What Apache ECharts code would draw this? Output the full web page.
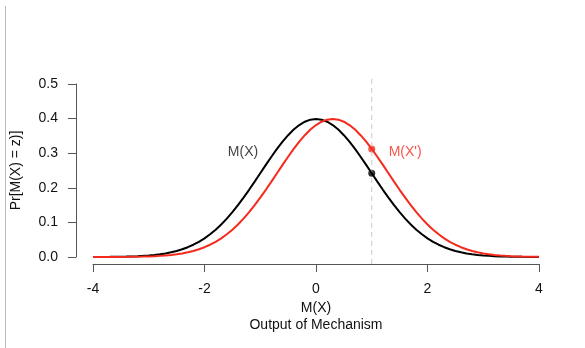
<!DOCTYPE html>
<html>
<head>
<meta charset="utf-8">
<script src="https://cdn.jsdelivr.net/npm/echarts@6/dist/echarts.min.js"></script>
<style>html,body{margin:0;padding:0;background:#fff}#c{width:585px;height:348px}</style>
</head>
<body>
<div id="c"></div>
<script>
var xs = [-4.0,-3.9,-3.8,-3.7,-3.6,-3.5,-3.4,-3.3,-3.2,-3.1,-3.0,-2.9,-2.8,-2.7,-2.6,-2.5,-2.4,-2.3,-2.2,-2.1,-2.0,-1.9,-1.8,-1.7,-1.6,-1.5,-1.4,-1.3,-1.2,-1.1,-1.0,-0.9,-0.8,-0.7,-0.6,-0.5,-0.4,-0.3,-0.2,-0.1,0.0,0.1,0.2,0.3,0.4,0.5,0.6,0.7,0.8,0.9,1.0,1.1,1.2,1.3,1.4,1.5,1.6,1.7,1.8,1.9,2.0,2.1,2.2,2.3,2.4,2.5,2.6,2.7,2.8,2.9,3.0,3.1,3.2,3.3,3.4,3.5,3.6,3.7,3.8,3.9,4.0];
var densityMX = [0.0001,0.0002,0.0003,0.0004,0.0006,0.0009,0.0012,0.0017,0.0024,0.0033,0.0044,0.0060,0.0079,0.0104,0.0136,0.0175,0.0224,0.0283,0.0355,0.0440,0.0540,0.0656,0.0790,0.0940,0.1109,0.1295,0.1497,0.1714,0.1942,0.2179,0.2420,0.2661,0.2897,0.3123,0.3332,0.3521,0.3683,0.3814,0.3910,0.3970,0.3989,0.3970,0.3910,0.3814,0.3683,0.3521,0.3332,0.3123,0.2897,0.2661,0.2420,0.2179,0.1942,0.1714,0.1497,0.1295,0.1109,0.0940,0.0790,0.0656,0.0540,0.0440,0.0355,0.0283,0.0224,0.0175,0.0136,0.0104,0.0079,0.0060,0.0044,0.0033,0.0024,0.0017,0.0012,0.0009,0.0006,0.0004,0.0003,0.0002,0.0001];
var densityMXp = [0.0000,0.0001,0.0001,0.0001,0.0002,0.0003,0.0004,0.0006,0.0009,0.0012,0.0017,0.0024,0.0033,0.0044,0.0060,0.0079,0.0104,0.0136,0.0175,0.0224,0.0283,0.0355,0.0440,0.0540,0.0656,0.0790,0.0940,0.1109,0.1295,0.1497,0.1714,0.1942,0.2179,0.2420,0.2661,0.2897,0.3123,0.3332,0.3521,0.3683,0.3814,0.3910,0.3970,0.3989,0.3970,0.3910,0.3814,0.3683,0.3521,0.3332,0.3123,0.2897,0.2661,0.2420,0.2179,0.1942,0.1714,0.1497,0.1295,0.1109,0.0940,0.0790,0.0656,0.0540,0.0440,0.0355,0.0283,0.0224,0.0175,0.0136,0.0104,0.0079,0.0060,0.0044,0.0033,0.0024,0.0017,0.0012,0.0009,0.0006,0.0004];
var xTicks = [-4, -2, 0, 2, 4];
var yTicks = [0.0, 0.1, 0.2, 0.3, 0.4, 0.5];
var evalX = 1;
var evalMX = 0.2420;
var evalMXp = 0.3123;
var vlineY = [-0.02, 0.526];
var labelMX = {text: 'M(X)', x: -1.31, y: 0.303};
var labelMXp = {text: "M(X')", x: 1.60, y: 0.303};
var xName1 = 'M(X)';
var xName2 = 'Output of Mechanism';
var yName = 'Pr[M(X) = z)]';

var FONT = '"Liberation Sans", Arial, sans-serif';
var FS = 14;
var RED = '#f52a1c';
var AXC = '#555';
var chart = echarts.init(document.getElementById('c'), null, {renderer: 'canvas'});
function zip(a, b) { return a.map(function (v, i) { return [v, b[i]]; }); }
chart.setOption({
  animation: false,
  backgroundColor: '#fff',
  grid: {left: 93, right: 46, top: 84, bottom: 91, containLabel: false},
  xAxis: {
    type: 'value', min: xTicks[0], max: xTicks[xTicks.length - 1], interval: 2,
    offset: 7,
    axisLine: {show: true, onZero: false, lineStyle: {color: AXC, width: 1}},
    axisTick: {show: true, length: 8, lineStyle: {color: AXC}},
    axisLabel: {show: true, color: '#111', fontSize: FS, fontFamily: FONT, margin: 18,
      formatter: function (v) { return String(v); }},
    splitLine: {show: false}
  },
  yAxis: {
    type: 'value', min: yTicks[0], max: yTicks[yTicks.length - 1], interval: 0.1,
    offset: 17,
    axisLine: {show: true, onZero: false, lineStyle: {color: AXC, width: 1}},
    axisTick: {show: true, length: 8, lineStyle: {color: AXC}},
    axisLabel: {show: true, color: '#111', fontSize: FS, fontFamily: FONT, margin: 18,
      formatter: function (v) { return v.toFixed(1); }},
    splitLine: {show: false}
  },
  series: [
    {type: 'line', data: [[evalX, vlineY[0]], [evalX, vlineY[1]]], clip: false, symbol: 'none', silent: true,
      lineStyle: {color: '#c8c8c8', width: 1, type: [5, 4]}},
    {type: 'line', data: zip(xs, densityMX), symbol: 'none', smooth: false,
      lineStyle: {color: '#000', width: 2}},
    {type: 'line', data: zip(xs, densityMXp), symbol: 'none', smooth: false,
      lineStyle: {color: RED, width: 2}},
    {type: 'scatter', data: [[evalX, evalMX]], symbol: 'circle', symbolSize: 7, itemStyle: {color: '#000'}},
    {type: 'scatter', data: [[evalX, evalMXp]], symbol: 'circle', symbolSize: 7, itemStyle: {color: RED}},
    {type: 'scatter', data: [[labelMX.x, labelMX.y]], symbolSize: 0, clip: false,
      label: {show: true, position: 'inside', formatter: labelMX.text, color: '#111', fontSize: FS, fontFamily: FONT}},
    {type: 'scatter', data: [[labelMXp.x, labelMXp.y]], symbolSize: 0, clip: false,
      label: {show: true, position: 'inside', formatter: labelMXp.text, color: RED, fontSize: FS, fontFamily: FONT}}
  ]
});
// axis lines drawn from the axes' own scales (R-style detached axes)
var pX0 = chart.convertToPixel({gridIndex: 0}, [xTicks[0], yTicks[0]]);
var pX1 = chart.convertToPixel({gridIndex: 0}, [xTicks[xTicks.length - 1], yTicks[yTicks.length - 1]]);
var xLineY = Math.round(pX0[1]) + 7 + 0.5;
var yLineX = Math.round(pX0[0]) - 17 + 0.5;
chart.setOption({
  graphic: [
    {type: 'line', shape: {x1: 5.5, y1: 6, x2: 5.5, y2: 348}, style: {stroke: '#bbb', lineWidth: 1}},
    {type: 'line', shape: {x1: pX0[0], y1: xLineY, x2: pX1[0], y2: xLineY}, style: {stroke: AXC, lineWidth: 1}},
    {type: 'line', shape: {x1: yLineX, y1: pX0[1], x2: yLineX, y2: pX1[1]}, style: {stroke: AXC, lineWidth: 1}},
    {type: 'text', x: (pX0[0] + pX1[0]) / 2, y: 308, style: {text: xName1, font: FS + 'px ' + FONT, fill: '#111', textAlign: 'center', textVerticalAlign: 'middle'}},
    {type: 'text', x: (pX0[0] + pX1[0]) / 2, y: 325, style: {text: xName2, font: FS + 'px ' + FONT, fill: '#111', textAlign: 'center', textVerticalAlign: 'middle'}},
    {type: 'text', x: 16, y: (pX0[1] + pX1[1]) / 2, rotation: Math.PI / 2, style: {text: yName, font: FS + 'px ' + FONT, fill: '#111', textAlign: 'center', textVerticalAlign: 'middle'}}
  ]
});
</script>
</body>
</html>
